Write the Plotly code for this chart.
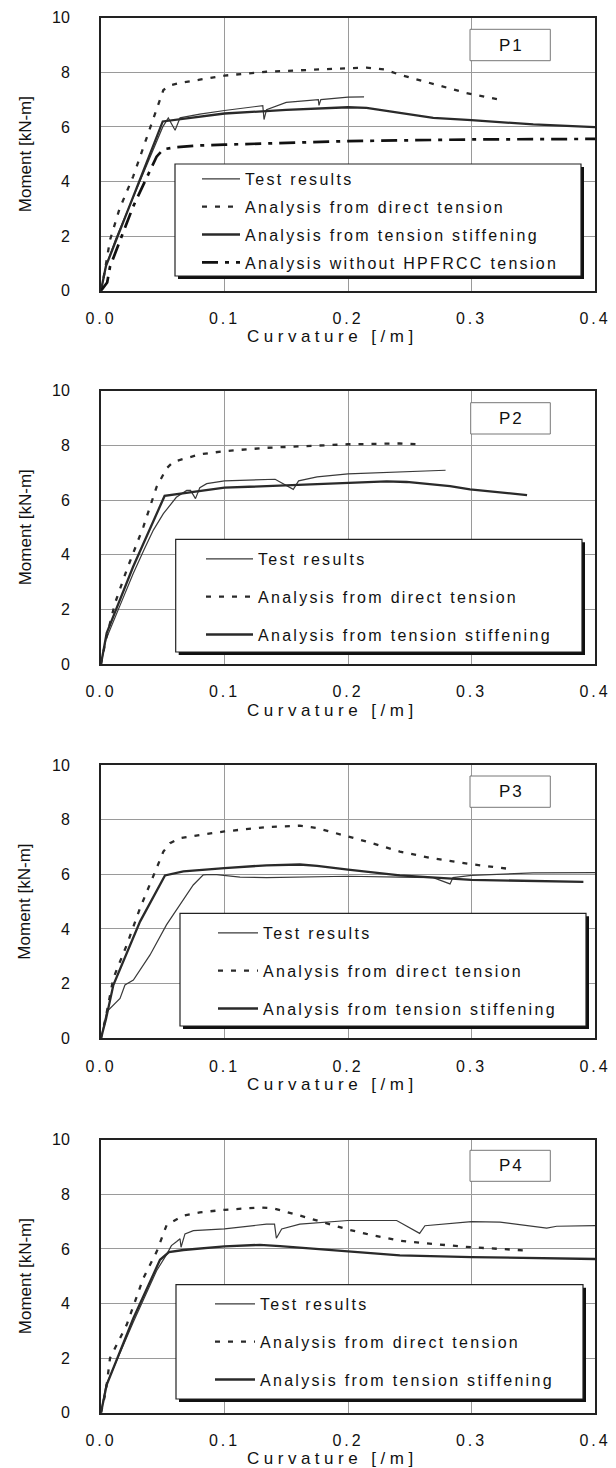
import plotly.graph_objects as go

# ---------------- data ----------------
panels = ["P1", "P2", "P3", "P4"]

p1_test_x = [0, 0.004, 0.012, 0.025, 0.04, 0.05, 0.0545, 0.06, 0.064, 0.08, 0.1, 0.12, 0.131, 0.132, 0.134, 0.15, 0.176, 0.1765, 0.178, 0.2, 0.213]
p1_test_y = [0, 0.9, 1.9, 3.3, 4.9, 6.0, 6.33, 5.88, 6.33, 6.47, 6.6, 6.72, 6.78, 6.27, 6.63, 6.9, 7.0, 6.79, 7.0, 7.09, 7.1]
p1_direct_x = [0, 0.003, 0.0073, 0.015, 0.026, 0.0397, 0.0505, 0.056, 0.065, 0.08, 0.1, 0.134, 0.17, 0.2, 0.215, 0.23, 0.242, 0.27, 0.296, 0.322]
p1_direct_y = [0, 0.7, 1.86, 3.0, 4.18, 6.0, 7.35, 7.52, 7.62, 7.73, 7.88, 8.02, 8.1, 8.15, 8.17, 8.1, 7.91, 7.55, 7.24, 7.0]
p1_stiff_x = [0, 0.004, 0.05, 0.1, 0.15, 0.2, 0.215, 0.242, 0.269, 0.3, 0.35, 0.4]
p1_stiff_y = [0, 0.9, 6.2, 6.49, 6.62, 6.72, 6.70, 6.51, 6.33, 6.25, 6.09, 5.99]
p1_without_x = [0, 0.005, 0.0073, 0.026, 0.045, 0.0505, 0.06, 0.08, 0.1, 0.2, 0.3, 0.4]
p1_without_y = [0, 0.3, 0.88, 3.08, 4.91, 5.18, 5.25, 5.32, 5.35, 5.48, 5.54, 5.56]

p2_test_x = [0, 0.004, 0.015, 0.026, 0.035, 0.0424, 0.0505, 0.061, 0.0694, 0.0725, 0.0765, 0.08, 0.0856, 0.1, 0.141, 0.1557, 0.16, 0.175, 0.2, 0.242, 0.279]
p2_test_y = [0, 0.9, 2.1, 3.3, 4.2, 4.9, 5.5, 6.1, 6.35, 6.35, 6.05, 6.45, 6.6, 6.7, 6.76, 6.39, 6.70, 6.85, 6.96, 7.02, 7.09]
p2_direct_x = [0, 0.004, 0.0113, 0.0208, 0.0343, 0.0451, 0.0532, 0.0586, 0.08, 0.1, 0.134, 0.2, 0.242, 0.258]
p2_direct_y = [0, 0.9, 2.22, 3.44, 5.02, 6.49, 7.16, 7.40, 7.67, 7.79, 7.91, 8.04, 8.07, 8.04]
p2_stiff_x = [0, 0.0046, 0.026, 0.0515, 0.1, 0.2, 0.2313, 0.2475, 0.2826, 0.2988, 0.345]
p2_stiff_y = [0, 1.13, 3.56, 6.15, 6.45, 6.63, 6.68, 6.66, 6.51, 6.39, 6.18]

p3_test_x = [0, 0.0046, 0.0154, 0.0194, 0.0262, 0.0397, 0.053, 0.064, 0.0747, 0.0828, 0.0856, 0.0937, 0.1126, 0.134, 0.2, 0.242, 0.269, 0.2826, 0.285, 0.3, 0.35, 0.4]
p3_test_y = [0, 0.97, 1.46, 1.95, 2.13, 3.05, 4.15, 4.88, 5.61, 5.98, 5.99, 5.99, 5.90, 5.88, 5.93, 5.90, 5.88, 5.65, 5.88, 5.96, 6.05, 6.06]
p3_direct_x = [0, 0.004, 0.01, 0.0208, 0.0316, 0.0424, 0.0505, 0.0559, 0.064, 0.08, 0.1, 0.134, 0.161, 0.175, 0.2, 0.215, 0.242, 0.269, 0.3, 0.3285]
p3_direct_y = [0, 0.8, 2.2, 3.41, 4.76, 5.98, 6.83, 7.14, 7.32, 7.44, 7.57, 7.73, 7.78, 7.69, 7.38, 7.2, 6.83, 6.58, 6.37, 6.21]
p3_stiff_x = [0, 0.004, 0.01, 0.0316, 0.0518, 0.0667, 0.1, 0.134, 0.161, 0.175, 0.2, 0.242, 0.3, 0.35, 0.3906]
p3_stiff_y = [0, 0.7, 1.95, 4.27, 5.96, 6.11, 6.23, 6.33, 6.36, 6.31, 6.17, 5.96, 5.80, 5.75, 5.72]

p4_test_x = [0, 0.004, 0.026, 0.045, 0.0532, 0.057, 0.0613, 0.064, 0.0648, 0.068, 0.0748, 0.1, 0.134, 0.1405, 0.142, 0.1463, 0.161, 0.2, 0.2394, 0.258, 0.2623, 0.3, 0.3231, 0.3609, 0.369, 0.4]
p4_test_y = [0, 1.0, 3.3, 5.2, 5.8, 6.12, 6.27, 6.37, 6.06, 6.55, 6.67, 6.73, 6.91, 6.91, 6.39, 6.73, 6.91, 7.04, 7.04, 6.57, 6.85, 7.0, 6.98, 6.76, 6.83, 6.85]
p4_direct_x = [0, 0.004, 0.0073, 0.0208, 0.0343, 0.0451, 0.0532, 0.0667, 0.08, 0.1, 0.1287, 0.139, 0.161, 0.188, 0.2, 0.215, 0.242, 0.269, 0.3, 0.345]
p4_direct_y = [0, 0.8, 2.0, 3.22, 4.93, 5.9, 6.88, 7.22, 7.34, 7.43, 7.52, 7.49, 7.22, 6.85, 6.71, 6.55, 6.30, 6.18, 6.06, 5.94]
p4_stiff_x = [0, 0.0046, 0.0262, 0.0478, 0.055, 0.0667, 0.1, 0.1287, 0.145, 0.2, 0.242, 0.3, 0.35, 0.4]
p4_stiff_y = [0, 1.02, 3.46, 5.6, 5.88, 5.96, 6.09, 6.15, 6.10, 5.90, 5.76, 5.70, 5.66, 5.63]

x_tick_vals = [0.0, 0.1, 0.2, 0.3, 0.4]
x_tick_labels = ["0.0", "0.1", "0.2", "0.3", "0.4"]
y_tick_vals = [0, 2, 4, 6, 8, 10]
y_tick_labels = ["0", "2", "4", "6", "8", "10"]

name_test = "Test results"
name_direct = "Analysis from direct tension"
name_stiff = "Analysis from tension stiffening"
name_without = "Analysis without HPFRCC tension"
x_title = "Curvature [/m]"
y_title = "Moment [kN-m]"

# ---------------- layout helpers ----------------
W, H = 616, 1468
L, R = 101, 595
tops = [17.7, 390.7, 765.0, 1139.7]
bots = [290.7, 664.0, 1038.3, 1412.7]
FONT = "Arial, 'Liberation Sans', sans-serif"


def sp(text, ls=2):
    return '<span style="letter-spacing:%spx">%s</span>' % (ls, text)


def px_x(px):
    return (px - L) / (R - L)


def px_y(py):
    return 1 - py / H


fig = go.Figure()

STY = {
    "test": dict(color="#3a3a3a", width=1.2),
    "direct": dict(color="#2a2a2a", width=2.3, dash="5px,8px"),
    "stiff": dict(color="#2a2a2a", width=2.3),
    "without": dict(color="#111111", width=2.7, dash="16px,7px,4px,7px"),
}

series = [
    [("test", name_test, p1_test_x, p1_test_y), ("direct", name_direct, p1_direct_x, p1_direct_y),
     ("stiff", name_stiff, p1_stiff_x, p1_stiff_y), ("without", name_without, p1_without_x, p1_without_y)],
    [("test", name_test, p2_test_x, p2_test_y), ("direct", name_direct, p2_direct_x, p2_direct_y),
     ("stiff", name_stiff, p2_stiff_x, p2_stiff_y)],
    [("test", name_test, p3_test_x, p3_test_y), ("direct", name_direct, p3_direct_x, p3_direct_y),
     ("stiff", name_stiff, p3_stiff_x, p3_stiff_y)],
    [("test", name_test, p4_test_x, p4_test_y), ("direct", name_direct, p4_direct_x, p4_direct_y),
     ("stiff", name_stiff, p4_stiff_x, p4_stiff_y)],
]

# legend box pixel geometry (left, top, right, bottom) and legend anchor
leg_boxes = [(175, 164, 581, 276), (175.7, 539.3, 582, 652), (180, 913.3, 586, 1026), (176, 1284.7, 583, 1399)]
leg_pos = [(197, 162), (201, 542), (213, 916), (210, 1287)]
leg_iw = [38, 47, 40, 40]
leg_gap = [4, 14, 14, 14]
pbox = [(470, 29.3, 550.3, 60.7), (470.7, 402.7, 550.3, 434), (470, 776, 550.3, 807.3), (470, 1150.3, 550.3, 1181.3)]

shapes = []
annotations = []
layout_extra = {}

for i in range(4):
    k = "" if i == 0 else str(i + 1)
    xa, ya = "x" + k, "y" + k
    leg = "legend" + k
    for j, (key, name, xs, ys) in enumerate(series[i]):
        fig.add_trace(go.Scatter(
            x=xs, y=ys, mode="lines", name=sp(name, 2.3), line=STY[key],
            xaxis=xa, yaxis=ya, legend=leg, legendgroup="g%d_%d" % (i, j),
            hoverinfo="skip"))
    dom = [px_y(bots[i]), px_y(tops[i])]
    layout_extra["xaxis" + k] = dict(
        domain=[0, 1], range=[0, 0.4], anchor=ya, tickvals=x_tick_vals,
        ticktext=[sp(t, 3) for t in x_tick_labels], showgrid=True, gridcolor="#9a9a9a", gridwidth=1,
        showline=True, linecolor="#222222", linewidth=2, mirror=True, ticks="",
        ticklabelstandoff=12, tickfont=dict(family=FONT, size=16, color="#111111"), zeroline=False,
        automargin=False)
    layout_extra["yaxis" + k] = dict(
        domain=dom, range=[0, 10], anchor=xa, tickvals=y_tick_vals, ticktext=y_tick_labels,
        showgrid=True, gridcolor="#9a9a9a", gridwidth=1,
        showline=True, linecolor="#222222", linewidth=2, mirror=True, ticks="",
        ticklabelstandoff=26, tickfont=dict(family=FONT, size=16, color="#111111"), zeroline=False,
        automargin=False)
    lx, ly = leg_pos[i]
    layout_extra[leg] = dict(
        x=px_x(lx), y=px_y(ly), xanchor="left", yanchor="top", xref="paper", yref="paper",
        bgcolor="rgba(0,0,0,0)", borderwidth=0, traceorder="grouped", tracegroupgap=leg_gap[i],
        font=dict(family=FONT, size=16, color="#111111"), itemwidth=leg_iw[i], itemclick=False)
    # legend box with shadow
    bl, bt, br, bb = leg_boxes[i]
    shapes.append(dict(type="rect", xref="paper", yref="paper", x0=px_x(bl + 3), x1=px_x(br + 3),
                       y0=px_y(bb + 3), y1=px_y(bt + 3), fillcolor="#111111", line=dict(width=0), layer="above"))
    shapes.append(dict(type="rect", xref="paper", yref="paper", x0=px_x(bl), x1=px_x(br),
                       y0=px_y(bb), y1=px_y(bt), fillcolor="white", line=dict(color="#222222", width=1.2), layer="above"))
    # panel label box
    pl, pt, pr, pb = pbox[i]
    shapes.append(dict(type="rect", xref="paper", yref="paper", x0=px_x(pl), x1=px_x(pr),
                       y0=px_y(pb), y1=px_y(pt), fillcolor="white", line=dict(color="#777777", width=1), layer="above"))
    annotations.append(dict(text=sp(panels[i], 2), xref="paper", yref="paper", x=px_x((pl + pr) / 2 + 1),
                            y=px_y((pt + pb) / 2), showarrow=False, xanchor="center", yanchor="middle",
                            font=dict(family=FONT, size=17, color="#111111")))
    # axis titles
    annotations.append(dict(text=y_title, xref="paper", yref="paper", x=px_x(25), y=px_y((tops[i] + bots[i]) / 2),
                            textangle=-90, showarrow=False, xanchor="center", yanchor="middle",
                            font=dict(family=FONT, size=17, color="#111111")))
    annotations.append(dict(text=sp(x_title, 4.5), xref="paper", yref="paper", x=px_x(332), y=px_y(bots[i] + 46),
                            showarrow=False, xanchor="center", yanchor="middle",
                            font=dict(family=FONT, size=17, color="#111111")))

fig.update_layout(
    width=W, height=H, margin=dict(l=L, r=W - R, t=0, b=0, autoexpand=False),
    paper_bgcolor="white", plot_bgcolor="white",
    font=dict(family=FONT, size=16, color="#111111"),
    shapes=shapes, annotations=annotations, **layout_extra)

fig.write_html("out.html", config={"displayModeBar": False, "staticPlot": True},
               post_script="document.body.style.margin='0';document.body.style.overflow='hidden';")
